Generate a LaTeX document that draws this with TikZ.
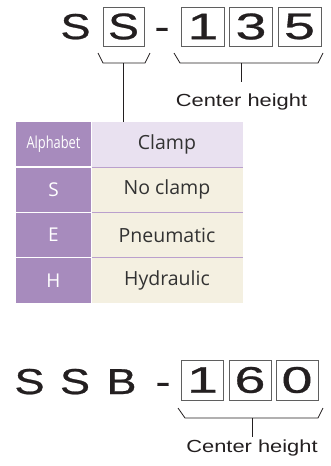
\documentclass[tikz,border=0pt]{standalone}
\usepackage{fontspec}
\setmainfont{Liberation Sans}
\newfontfamily\bigfont[FakeBold=0.7]{Liberation Sans}
\newfontfamily\tabfont{Open Sans}
\definecolor{ink}{RGB}{35,31,32}
\definecolor{boxc}{RGB}{95,95,95}
\definecolor{purp}{RGB}{167,139,189}
\definecolor{lav}{RGB}{233,225,240}
\definecolor{cream}{RGB}{244,240,225}
\definecolor{psep}{RGB}{186,160,205}
\definecolor{tabtext}{RGB}{50,50,50}
\newcommand\wideL[1]{\scalebox{1.25}[1]{#1}}
\newcommand\wideD[1]{\scalebox{1.5}[1]{#1}}
\begin{document}
\begin{tikzpicture}[x=1pt,y=-1pt,
  big/.style={font=\bigfont\fontsize{36}{36}\selectfont, text=ink, inner sep=0pt, anchor=base},
  digbox/.style={draw=boxc, line width=0.7pt, minimum width=43pt, minimum height=39pt, inner sep=0pt,
    font=\bigfont\fontsize{37}{37}\selectfont, text=ink},
  brk/.style={draw=ink, line width=0.8pt},
  lbl/.style={font=\fontsize{17.5}{17.5}\selectfont, text=ink, inner sep=0pt, anchor=base},
  lcell/.style={fill=purp, minimum width=75pt, minimum height=45.25pt, inner sep=0pt, text=white,
    font=\tabfont\fontsize{19}{19}\selectfont},
  rcell/.style={fill=cream, minimum width=152pt, minimum height=45.25pt, inner sep=0pt, text=tabtext,
    font=\tabfont\fontsize{19.5}{19.5}\selectfont},
  wsep/.style={draw=white, line width=1.2pt},
  psepl/.style={draw=psep, line width=1pt}]
\useasboundingbox (0,0) rectangle (331,466);

% ---- top code: S S - 1 3 5
\node[big] (t1) at (75.5,39) {\wideL{S}};
\node[digbox, minimum width=41pt] (t2) at (123.5,26.5) {\wideL{S}};
\node[big] (t3) at (162,39) {\wideL{-}};
\node[digbox] (n1) at (203,26.5) {\wideD{1}};
\node[digbox] (n2) at (251,26.5) {\wideD{3}};
\node[digbox] (n3) at (299.5,26.5) {\wideD{5}};

% brackets
\draw[brk] (98,53) -- (103,63) -- (145,63) -- (150,53);
\draw[brk] (174,53) -- (180,63) -- (318,63) -- (323,53);
\coordinate (sb) at (123,63);
\coordinate (cb1) at (241.5,63);
\coordinate (ce1) at (241.5,82);
\node[lbl] (c1) at (241.5,106) {\wideL{Center height}};
\draw[brk] (cb1) -- (ce1);

% ---- table
\node[lcell, font=\tabfont\fontsize{16.5}{16.5}\selectfont] (h1) at (53.5,144.6) {\scalebox{0.78}[1]{Alphabet}};
\node[rcell, fill=lav] (h2) at (167,144.6) {Clamp};
\node[lcell] (r1l) at (53.5,189.9) {S};
\node[rcell] (r1r) at (167,189.9) {No clamp};
\node[lcell] (r2l) at (53.5,235.1) {E};
\node[rcell] (r2r) at (167,235.1) {Pneumatic};
\node[lcell] (r3l) at (53.5,280.4) {H};
\node[rcell] (r3r) at (167,280.4) {Hydraulic};
\coordinate (tt) at (123,122);
\draw[brk] (sb) -- (tt);

\draw[wsep] (r1l.north west) -- (r1l.north east);
\draw[wsep] (r2l.north west) -- (r2l.north east);
\draw[wsep] (r3l.north west) -- (r3l.north east);
\draw[psepl] (r1r.north west) -- (r1r.north east);
\draw[psepl] (r2r.north west) -- (r2r.north east);
\draw[psepl] (r3r.north west) -- (r3r.north east);
\draw[draw=white, line width=0.6pt] (h1.north east) -- (r3l.south east);

% ---- bottom code: S S B - 1 6 0
\node[big] (b1) at (29.5,394) {\wideL{S}};
\node[big] (b2) at (75,394) {\wideL{S}};
\node[big] (b3) at (121.5,394) {\wideL{B}};
\node[big] (b4) at (163,394) {\wideL{-}};
\node[digbox, minimum width=42pt, minimum height=40pt] (m1) at (202.5,380) {\wideD{1}};
\node[digbox, minimum width=42pt, minimum height=40pt] (m2) at (250,380) {\wideD{6}};
\node[digbox, minimum width=42pt, minimum height=40pt] (m3) at (297,380) {\wideD{0}};

\draw[brk] (178,408) -- (185,418) -- (318,418) -- (323,408);
\coordinate (cb2) at (252,418);
\coordinate (ce2) at (252,437);
\draw[brk] (cb2) -- (ce2);
\node[lbl] (c2) at (252,452) {\wideL{Center height}};
\end{tikzpicture}
\end{document}
